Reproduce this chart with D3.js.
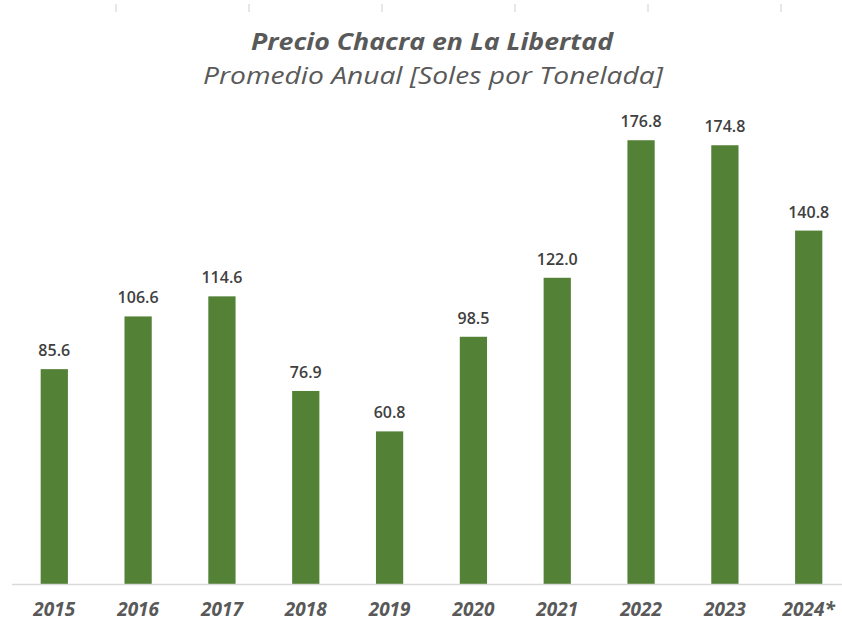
<!DOCTYPE html>
<html>
<head>
<meta charset="utf-8">
<script src="https://cdn.jsdelivr.net/npm/d3@7"></script>
<style>
  body { margin: 0; background: #fff; }
  svg { display: block; }
</style>
</head>
<body>
<div id="chart"></div>
<script>
// datos
var years = ["2015", "2016", "2017", "2018", "2019", "2020", "2021", "2022", "2023", "2024*"];
var prices = [85.6, 106.6, 114.6, 76.9, 60.8, 98.5, 122.0, 176.8, 174.8, 140.8];
var title = "Precio Chacra en La Libertad";
var subtitle = "Promedio Anual [Soles por Tonelada]";

var width = 842, height = 625;
var baseY = 584;

var svg = d3.select("#chart").append("svg")
  .attr("width", width)
  .attr("height", height);

// escalas
var x = d3.scaleBand()
  .domain(years)
  .range([13, 850])
  .paddingInner(0.675)
  .paddingOuter(0.33);

var y = d3.scaleLinear()
  .domain([0, 200])
  .range([baseY, 82]);

// marcas grises arriba (restos del borde del grafico)
var topTicks = d3.scaleLinear().domain([0, 5]).range([116, 781]);
svg.append("g").selectAll("line")
  .data(d3.range(6))
  .join("line")
  .attr("x1", d => topTicks(d)).attr("x2", d => topTicks(d))
  .attr("y1", 4).attr("y2", 12)
  .attr("stroke", "#d0d0d0")
  .attr("stroke-width", 1);

// titulos
svg.append("text")
  .attr("x", 432).attr("y", 50)
  .attr("text-anchor", "middle")
  .style("font-family", "'Open Sans', sans-serif")
  .style("font-size", "23px")
  .style("font-weight", "bold")
  .style("font-style", "italic")
  .attr("textLength", 362).attr("lengthAdjust", "spacingAndGlyphs")
  .attr("fill", "#595959")
  .text(title);

svg.append("text")
  .attr("x", 433).attr("y", 84)
  .attr("text-anchor", "middle")
  .style("font-family", "'Open Sans', sans-serif")
  .style("font-size", "23px")
  .style("font-style", "italic")
  .attr("textLength", 460).attr("lengthAdjust", "spacingAndGlyphs")
  .attr("fill", "#595959")
  .text(subtitle);

// barras
svg.append("g").selectAll("rect")
  .data(prices)
  .join("rect")
  .attr("x", (d, i) => x(years[i]))
  .attr("y", d => y(d))
  .attr("width", x.bandwidth())
  .attr("height", d => baseY - y(d))
  .attr("fill", "#538135");

// linea base
svg.append("line")
  .attr("x1", 12).attr("x2", width)
  .attr("y1", baseY + 0.5).attr("y2", baseY + 0.5)
  .attr("stroke", "#d9d9d9")
  .attr("stroke-width", 1.5);

// etiquetas de valores
svg.append("g").selectAll("text")
  .data(prices)
  .join("text")
  .attr("x", (d, i) => x(years[i]) + x.bandwidth() / 2)
  .attr("y", d => y(d) - 13)
  .attr("text-anchor", "middle")
  .style("font-family", "'Open Sans', sans-serif")
  .style("font-size", "16px")
  .style("font-weight", "600")
  .attr("fill", "#404040")
  .text(d => d.toFixed(1));

// eje x
var xAxis = svg.append("g")
  .attr("transform", "translate(0," + baseY + ")")
  .call(d3.axisBottom(x).tickSize(0).tickPadding(19));
xAxis.select(".domain").remove();
xAxis.selectAll("text")
  .style("font-family", "'Open Sans', sans-serif")
  .style("font-size", "19px")
  .style("font-weight", "bold")
  .style("font-style", "italic")
  .attr("fill", "#595959");
</script>
</body>
</html>
